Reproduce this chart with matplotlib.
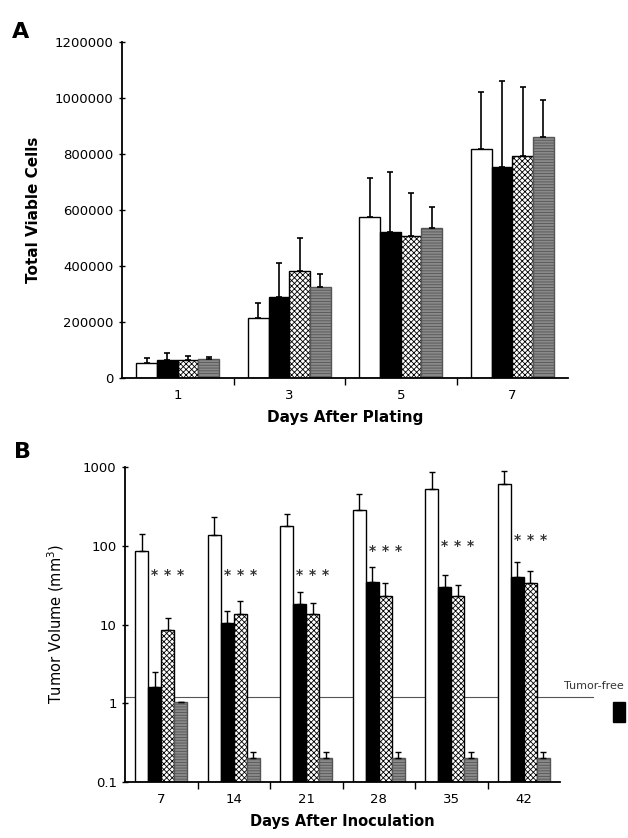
import matplotlib
matplotlib.use("Agg")
import matplotlib.pyplot as plt
import numpy as np
from matplotlib.patches import Rectangle

plt.rcParams['font.family'] = ['DejaVu Sans']
plt.rcParams['hatch.linewidth'] = 0.6

# ---------------- Panel A data ----------------
days_a = ["1", "3", "5", "7"]
a_white = [55000, 214000, 575000, 818000]
a_white_err = [15000, 54000, 140000, 203000]
a_black = [65000, 289000, 521000, 754000]
a_black_err = [25000, 120000, 215000, 307000]
a_hatch = [65000, 382000, 507000, 793000]
a_hatch_err = [15000, 118000, 154000, 246000]
a_gray = [68000, 325000, 536000, 861000]
a_gray_err = [8000, 46000, 75000, 132000]
a_yticks = [0, 200000, 400000, 600000, 800000, 1000000, 1200000]

# ---------------- Panel B data ----------------
days_b = ["7", "14", "21", "28", "35", "42"]
b_white = [85, 135, 178, 282, 525, 607]
b_white_top = [141, 230, 253, 455, 870, 891]
b_black = [1.6, 10.3, 18, 35, 29.6, 40]
b_black_top = [2.5, 14.7, 26, 53, 43, 62]
b_hatch = [8.4, 13.4, 13.4, 23, 23, 34]
b_hatch_top = [12, 19.6, 19, 34, 32, 48]
b_gray = [1.05, 0.2, 0.2, 0.2, 0.2, 0.2]
b_gray_top = [1.05, 0.24, 0.24, 0.24, 0.24, 0.24]
b_star_y = [43, 43, 43, 87, 100, 120]
b_yticks = [0.1, 1, 10, 100, 1000]
b_ytick_labels = ["0.1", "1", "10", "100", "1000"]
tumor_free_level = 1.2

W, H = 628, 838
fig = plt.figure(figsize=(W / 100, H / 100), dpi=100)

styles = [
    dict(color='white', edgecolor='black', hatch=None),
    dict(color='black', edgecolor='black', hatch=None),
    dict(color='white', edgecolor='black', hatch='xxxxxx'),
    dict(color='#8a8a8a', edgecolor='#555555', hatch='------'),
]

def style_axes(ax):
    for s in ['top', 'right']:
        ax.spines[s].set_visible(False)
    ax.spines['left'].set_linewidth(1.3)
    ax.spines['bottom'].set_linewidth(1.3)

# ---------------- Panel A ----------------
axA = fig.add_axes([122 / W, 1 - 378 / H, (568 - 122) / W, (378 - 42) / H])
style_axes(axA)
xa = np.arange(len(days_a))
bw = 0.185
offs = [-1.5 * bw, -0.5 * bw, 0.5 * bw, 1.5 * bw]
series_a = [(a_white, a_white_err), (a_black, a_black_err),
            (a_hatch, a_hatch_err), (a_gray, a_gray_err)]
for (vals, errs), off, st in zip(series_a, offs, styles):
    axA.bar(xa + off, vals, width=bw, color=st['color'], edgecolor=st['edgecolor'],
            hatch=st['hatch'], linewidth=1.0, zorder=2)
    axA.errorbar(xa + off, vals, yerr=[np.zeros(len(vals)), errs], fmt='none',
                 ecolor='black', elinewidth=1.2, capsize=2.5, capthick=1.2, zorder=3)
axA.set_xlim(-0.5, len(days_a) - 0.5)
axA.set_ylim(0, 1200000)
axA.set_yticks(a_yticks)
axA.set_yticklabels([str(v) for v in a_yticks], fontsize=9.5)
axA.set_xticks(xa)
axA.set_xticklabels(days_a, fontsize=9.5)
axA.set_xticks(np.arange(0.5, len(days_a) - 0.5, 1.0), minor=True)
axA.tick_params(axis='x', which='major', length=0, pad=8)
axA.tick_params(axis='x', which='minor', length=5, width=1, direction='out')
axA.tick_params(axis='y', which='major', length=5, width=1, direction='inout')
axA.set_xlabel("Days After Plating", fontsize=11, fontweight='bold', labelpad=6)
axA.set_ylabel("Total Viable Cells", fontsize=11, fontweight='bold', labelpad=10)
fig.text(12 / W, 1 - 32 / H, "A", fontsize=16, fontweight='bold', va='center', ha='left')

# ---------------- Panel B ----------------
axB = fig.add_axes([125 / W, 1 - 782 / H, (560 - 125) / W, (782 - 467) / H])
style_axes(axB)
axB.set_yscale('log')
xb = np.arange(len(days_b))
bwb = 0.18
offsb = [-1.5 * bwb, -0.5 * bwb, 0.5 * bwb, 1.5 * bwb]
series_b = [(b_white, b_white_top), (b_black, b_black_top),
            (b_hatch, b_hatch_top), (b_gray, b_gray_top)]
for (vals, tops), off, st in zip(series_b, offsb, styles):
    vals = np.array(vals, float)
    tops = np.array(tops, float)
    axB.bar(xb + off, vals - 0.1, bottom=0.1, width=bwb, color=st['color'],
            edgecolor=st['edgecolor'], hatch=st['hatch'], linewidth=1.0, zorder=2)
    axB.errorbar(xb + off, vals, yerr=[np.zeros(len(vals)), tops - vals], fmt='none',
                 ecolor='black', elinewidth=1.0, capsize=2, capthick=1.0, zorder=3)
for i, ys in enumerate(b_star_y):
    for off in offsb[1:]:
        axB.text(xb[i] + off, ys, "*", fontsize=10, fontweight='bold',
                 ha='center', va='center', color='#333333', zorder=4)
axB.plot([-0.5, 5.95], [tumor_free_level, tumor_free_level], color='#555555',
         lw=0.8, clip_on=False, zorder=1)
axB.text(5.55, tumor_free_level * 1.2, "Tumor-free", fontsize=8, ha='left',
         va='bottom', clip_on=False, color='#333333')
axB.set_xlim(-0.5, len(days_b) - 0.5)
axB.set_ylim(0.1, 1000)
axB.set_yticks(b_yticks)
axB.set_yticklabels(b_ytick_labels, fontsize=9.5)
axB.yaxis.set_minor_locator(matplotlib.ticker.NullLocator())
axB.set_xticks(xb)
axB.set_xticklabels(days_b, fontsize=9.5)
axB.set_xticks(np.arange(0.5, len(days_b) - 0.5, 1.0), minor=True)
axB.tick_params(axis='x', which='major', length=0, pad=8)
axB.tick_params(axis='x', which='minor', length=5, width=1, direction='out')
axB.tick_params(axis='y', which='major', length=5, width=1, direction='inout')
axB.set_xlabel("Days After Inoculation", fontsize=10.5, fontweight='bold', labelpad=6)
axB.set_ylabel("Tumor Volume (mm$^3$)", fontsize=10.5, labelpad=12)
fig.text(14 / W, 1 - 452 / H, "B", fontsize=16, fontweight='bold', va='center', ha='left')

fig.patches.append(Rectangle((613 / W, 1 - 722 / H), 12 / W, 20 / H,
                             transform=fig.transFigure, facecolor='black',
                             edgecolor='black'))

fig.savefig("out.png", dpi=100)
